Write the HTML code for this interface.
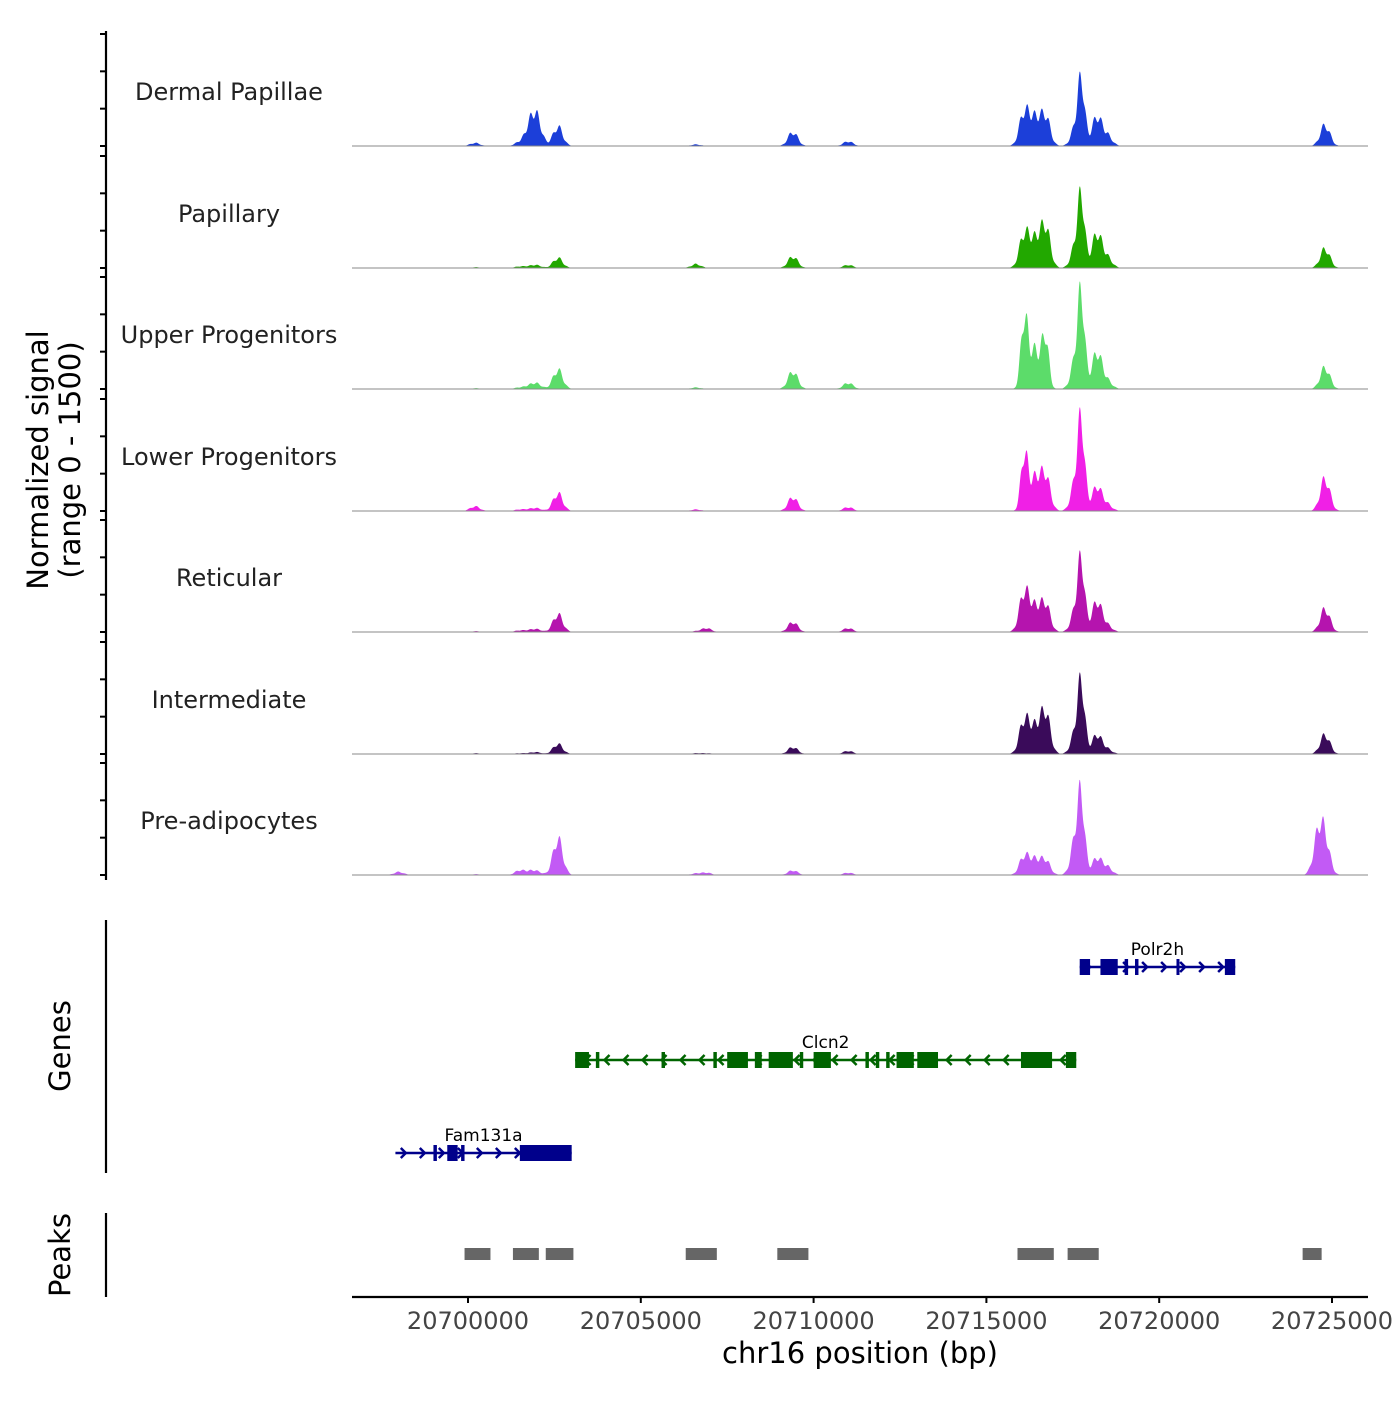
<!DOCTYPE html>
<html><head><meta charset="utf-8"><style>
body{margin:0;background:#fff}
svg text{font-family:"DejaVu Sans","Liberation Sans",sans-serif}
</style></head><body>
<svg id="c" width="1400" height="1400" viewBox="0 0 1400 1400" xmlns="http://www.w3.org/2000/svg"></svg>
<script>
const tracks=["Dermal Papillae","Papillary","Upper Progenitors","Lower Progenitors","Reticular","Intermediate","Pre-adipocytes"];
const colors=["#1c3fd9","#22a800","#5cdc6a","#f020e6","#b514ae","#3a0b5a","#c25af5"];
const peakPos=[20698000,20700200,20701500,20701800,20702000,20702600,20706600,20706900,20709400,20711000,20716100,20716400,20716700,20717600,20717750,20718200,20718500,20724600,20724800];
const trackHeights=[
[0,40,50,250,320,250,20,0,180,60,450,320,400,250,750,380,130,0,270],
[0,10,20,20,30,130,50,0,150,40,450,320,560,300,800,450,130,0,250],
[0,10,20,40,60,250,20,0,230,80,950,500,700,400,1050,480,100,0,280],
[0,60,20,20,30,230,20,0,180,50,760,400,480,400,1000,320,80,0,420],
[0,10,20,20,30,230,10,50,130,50,530,280,380,300,800,400,80,0,300],
[0,10,10,10,20,130,10,10,90,40,450,300,560,300,800,250,60,0,250],
[40,10,60,40,40,470,20,30,60,30,250,180,200,500,800,220,100,480,420]];
const xTicks=[20700000,20705000,20710000,20715000,20720000,20725000];
const peakStarts=[20699900,20701300,20702250,20706300,20708950,20715900,20717350,20724150];
const peakEnds=[20700650,20702050,20703050,20707200,20709850,20716950,20718250,20724700];
const genes=[
 {name:"Polr2h",start:20717700,end:20722200,strand:1,y:967,color:"#00008b",exons:[[20717700,20718000],[20718300,20718800],[20719000,20719100],[20719300,20719400],[20720500,20720550],[20721900,20722200]]},
 {name:"Clcn2",start:20703100,end:20717600,strand:-1,y:1060,color:"#006400",exons:[[20703100,20703500],[20703700,20703800],[20705600,20705700],[20707100,20707200],[20707500,20708100],[20708300,20708500],[20708700,20709400],[20709600,20709700],[20710000,20710500],[20711500,20711600],[20711800,20711900],[20712100,20712200],[20712400,20712900],[20713000,20713600],[20716000,20716900],[20717300,20717600]]},
 {name:"Fam131a",start:20697900,end:20703000,strand:1,y:1153,color:"#00008b",exons:[[20699000,20699100],[20699400,20699700],[20699800,20699900],[20701500,20703000]]}];
const ns="http://www.w3.org/2000/svg",svg=document.getElementById("c");
function el(t,a,p){const e=document.createElementNS(ns,t);for(const k in a)e.setAttribute(k,a[k]);(p||svg).appendChild(e);return e;}
const X0=352,X1=1368;
const x=bp=>468+(bp-20700000)*172.8/5000;
const baselines=[146,268,389,511,632,754,875];
const ys=(b,v)=>b-v*112/1500;
el("line",{x1:106,y1:31,x2:106,y2:880,stroke:"#000","stroke-width":2.2,});
tracks.forEach((name,i)=>{
 const b=baselines[i];
 [0,500,1000,1500].forEach(v=>{const t=el("line",{x1:100,x2:106,y1:ys(b,v),y2:ys(b,v),stroke:"#000","stroke-width":2});
 
 });
 const lab=el("text",{x:229,y:b-46,"text-anchor":"middle","font-size":24,fill:"#222"});lab.textContent=name;
 
 
 let d=`M${X0},${b}`;
 for(let px=X0;px<=X1;px+=0.5){const bp=20700000+(px-468)*5000/172.8;let v=0;
  peakPos.forEach((p,j)=>{const h=trackHeights[i][j];if(!h)return;const w=(h>600?100:140);const dz=(bp-p)/w;v+=h*Math.exp(-dz*dz/2)*(1+0.2*Math.cos(bp/37+j));});
  d+=`L${px},${ys(b,Math.min(v,1500))}`;}
 d+=`L${X1},${b}Z`;
 const a=el("path",{d:d,fill:colors[i]});
 
 
 const bl=el("line",{x1:X0,x2:X1,y1:b,y2:b,stroke:"#888","stroke-width":1});
 
 
});
let t=el("text",{transform:"translate(52,460) rotate(-90)","text-anchor":"middle","font-size":29,fill:"#000",});
t.innerHTML='<tspan x="0" dy="-4">Normalized signal</tspan><tspan x="0" dy="32">(range 0 - 1500)</tspan>';
el("line",{x1:106,y1:920,x2:106,y2:1173,stroke:"#000","stroke-width":2.2,});
t=el("text",{transform:"translate(70,1046) rotate(-90)","text-anchor":"middle","font-size":29,});t.textContent="Genes";
genes.forEach(g=>{
 const grp=el("g",{});
 
 
 el("line",{x1:x(g.start),x2:x(g.end),y1:g.y,y2:g.y,stroke:g.color,"stroke-width":2.5},grp);
 for(let p=g.start+300;p<g.end-200;p+=550){const cx=x(p),s=g.strand*5;
  el("polyline",{points:`${cx-s},${g.y-5} ${cx},${g.y} ${cx-s},${g.y+5}`,fill:"none",stroke:g.color,"stroke-width":2.5},grp);}
 g.exons.forEach(e=>{const r=el("rect",{x:x(e[0]),y:g.y-8,width:Math.max(3,x(e[1])-x(e[0])),height:16,fill:g.color},grp);
  
  });
 const l=el("text",{x:(x(g.start)+x(g.end))/2,y:g.y-12,"text-anchor":"middle","font-size":17,fill:"#000"},grp);l.textContent=g.name;
});
el("line",{x1:106,y1:1213,x2:106,y2:1297,stroke:"#000","stroke-width":2.2,});
t=el("text",{transform:"translate(70,1255) rotate(-90)","text-anchor":"middle","font-size":29,});t.textContent="Peaks";
peakStarts.forEach((s,i)=>{const r=el("rect",{x:x(s),y:1248,width:x(peakEnds[i])-x(s),height:12,fill:"#666"});
 
 });
el("line",{x1:X0,x2:X1,y1:1297,y2:1297,stroke:"#000","stroke-width":2.2,});
xTicks.forEach(v=>{const tk=el("line",{x1:x(v),x2:x(v),y1:1297,y2:1303,stroke:"#000","stroke-width":2});
 
 
 const l=el("text",{x:x(v),y:1329,"text-anchor":"middle","font-size":24,fill:"#444"});l.textContent=v;
 
 });
t=el("text",{x:860,y:1363,"text-anchor":"middle","font-size":29,});t.textContent="chr16 position (bp)";
</script></body></html>
